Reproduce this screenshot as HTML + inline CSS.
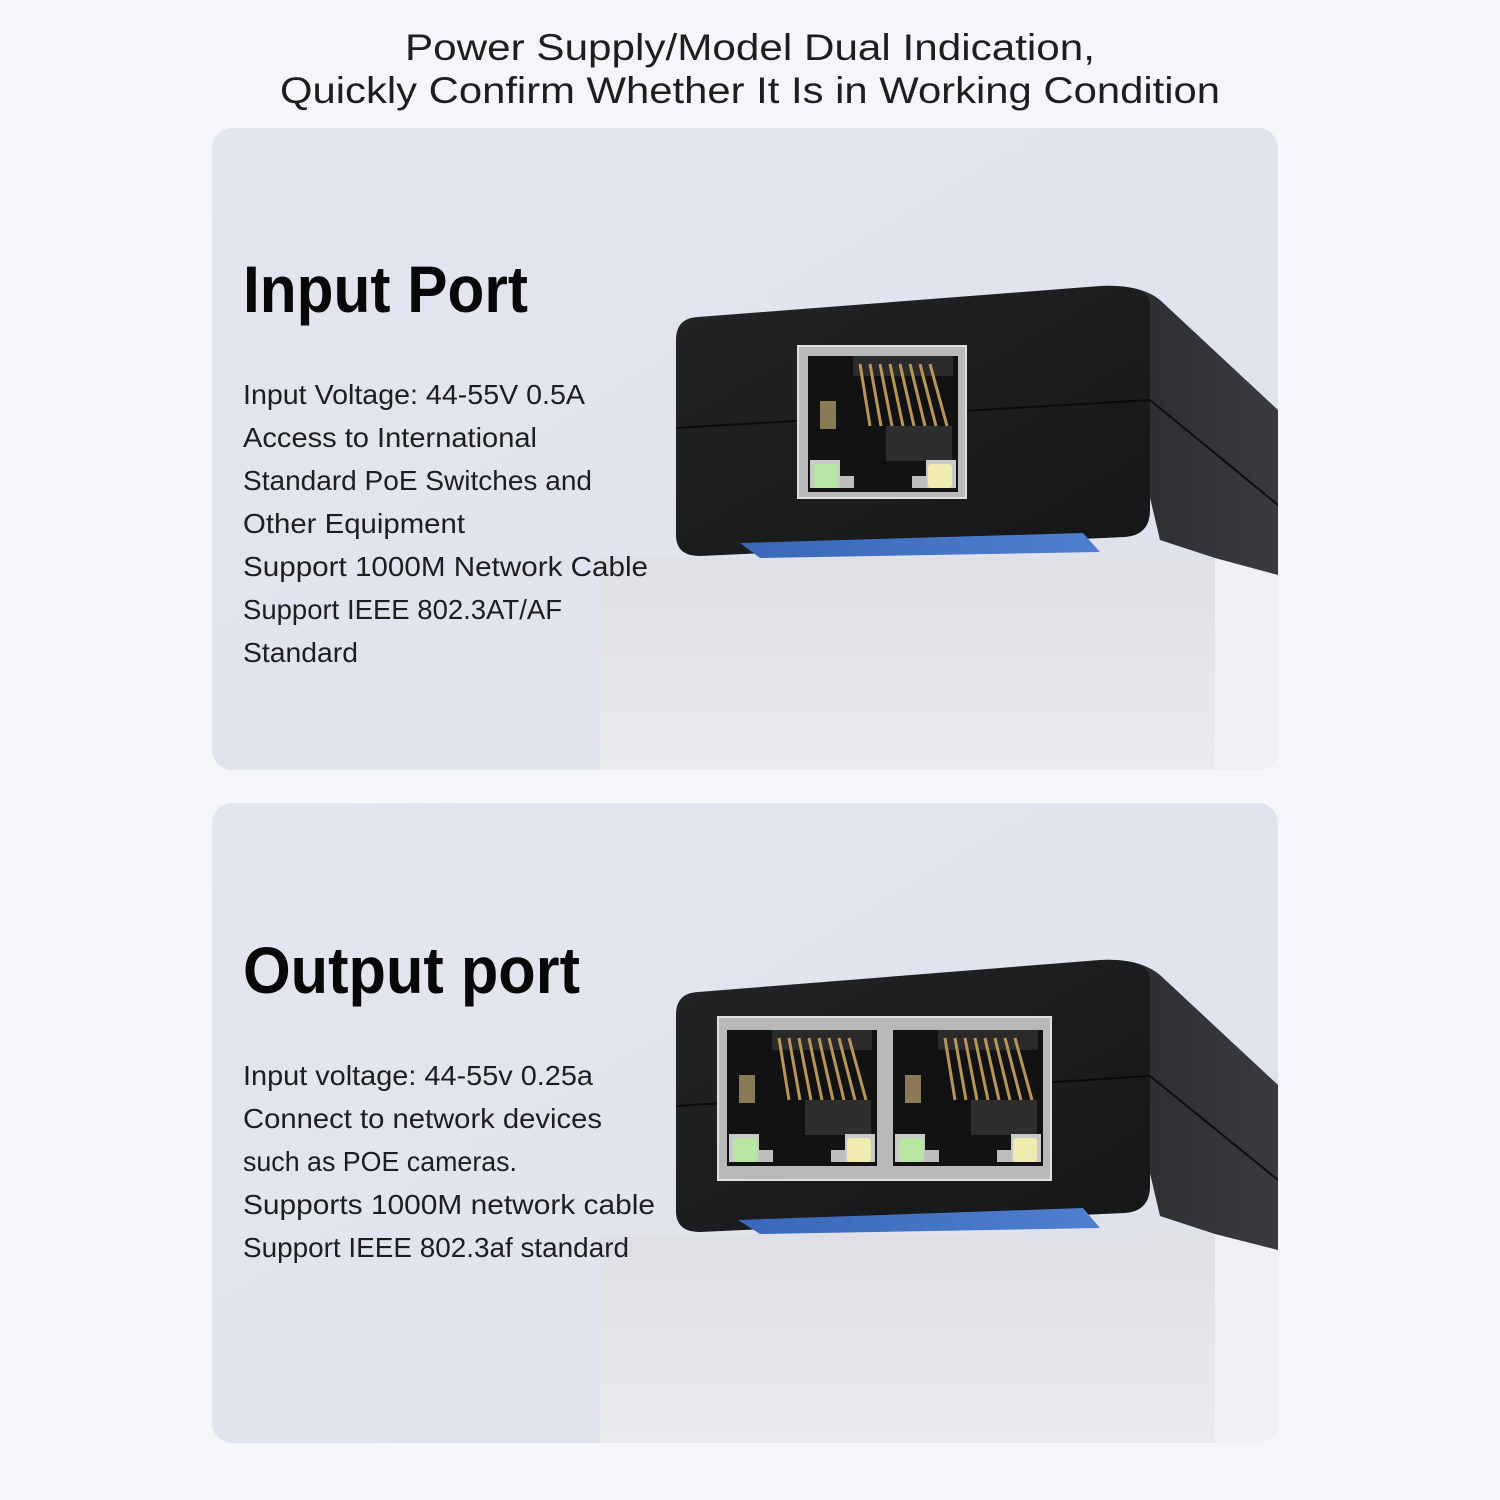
<!DOCTYPE html>
<html><head><meta charset="utf-8"><style>
html,body{margin:0;padding:0;background:#f5f6fa;}
svg{display:block}
text{font-family:"Liberation Sans",sans-serif;fill:#1e1e1e}
</style></head><body>
<svg width="1500" height="1500" viewBox="0 0 1500 1500" xmlns="http://www.w3.org/2000/svg">
<defs>
<linearGradient id="pbg" x1="0" y1="0" x2="1" y2="1">
<stop offset="0" stop-color="#e3e5ef"/><stop offset="0.5" stop-color="#e1e4ee"/><stop offset="1" stop-color="#dde0ea"/>
</linearGradient>
<linearGradient id="ped" x1="0" y1="0" x2="0" y2="1">
<stop offset="0" stop-color="#dfe0e5"/><stop offset="1" stop-color="#e9eaee"/>
</linearGradient>
<linearGradient id="front" x1="0" y1="0" x2="1" y2="1">
<stop offset="0" stop-color="#232426"/><stop offset="1" stop-color="#151617"/>
</linearGradient>
<linearGradient id="side" x1="0" y1="0" x2="1" y2="0">
<stop offset="0" stop-color="#2a2b2e"/><stop offset="1" stop-color="#3a3b3f"/>
</linearGradient>
<linearGradient id="blue" x1="0" y1="0" x2="1" y2="0">
<stop offset="0" stop-color="#3a67b8"/><stop offset="1" stop-color="#4f7fd0"/>
</linearGradient>
<g id="jack">
<rect x="0" y="0" width="150" height="136" fill="#121212"/>
<rect x="45" y="0" width="100" height="20" fill="#2a2a2a"/>
<g stroke="#b8965a" stroke-width="3">
<line x1="52" y1="8" x2="62" y2="70"/><line x1="62" y1="8" x2="73" y2="70"/>
<line x1="72" y1="8" x2="84" y2="70"/><line x1="82" y1="8" x2="95" y2="70"/>
<line x1="92" y1="8" x2="106" y2="70"/><line x1="102" y1="8" x2="117" y2="70"/>
<line x1="112" y1="8" x2="128" y2="70"/><line x1="122" y1="8" x2="139" y2="70"/>
</g>
<g fill="#2e2e2e"><rect x="78" y="70" width="66" height="35"/></g>
<rect x="12" y="45" width="16" height="28" fill="#8a7a55"/>
<rect x="2" y="104" width="30" height="28" fill="#c9c9c9"/>
<rect x="6" y="108" width="24" height="24" rx="3" fill="#b7e7a2"/>
<rect x="32" y="120" width="14" height="12" fill="#bdbdbd"/>
<rect x="118" y="104" width="30" height="28" fill="#c9c9c9"/>
<rect x="120" y="108" width="24" height="24" rx="3" fill="#f0ebb0"/>
<rect x="104" y="120" width="14" height="12" fill="#bdbdbd"/>
</g>
</defs>

<text x="750" y="60" font-size="37" text-anchor="middle" textLength="690" lengthAdjust="spacingAndGlyphs">Power Supply/Model Dual Indication,</text>
<text x="750" y="103" font-size="37" text-anchor="middle" textLength="940" lengthAdjust="spacingAndGlyphs">Quickly Confirm Whether It Is in Working Condition</text>

<!-- Panel 1 -->
<clipPath id="c1"><rect x="212" y="128" width="1066" height="642" rx="20"/></clipPath>
<g clip-path="url(#c1)">
<rect x="212" y="128" width="1066" height="642" fill="url(#pbg)"/>
<rect x="600" y="558" width="678" height="212" fill="url(#ped)"/>
<rect x="1215" y="558" width="63" height="212" fill="#f0f1f4"/>
<!-- side -->
<path d="M1100 286 Q1140 284 1160 300 L1278 410 L1278 575 L1215 558 L1160 540 Z" fill="url(#side)"/>
<line x1="1150" y1="400" x2="1278" y2="505" stroke="#0e0e0e" stroke-width="2"/>
<!-- front -->
<path d="M676 340 Q676 318 698 317 L1100 286 Q1150 284 1150 305 L1150 510 Q1150 535 1125 537 L700 556 Q676 556 676 535 Z" fill="url(#front)"/>
<line x1="676" y1="428" x2="1150" y2="400" stroke="#0a0a0a" stroke-width="2"/>
<path d="M740 543 L1083 533 L1100 552 L760 558 Z" fill="url(#blue)"/>
<rect x="798" y="346" width="168" height="152" fill="#b9b9bb" stroke="#e0e0e0" stroke-width="2"/>
<use href="#jack" x="808" y="356"/>
</g>
<text x="243" y="312" font-size="66" font-weight="bold" textLength="285" lengthAdjust="spacingAndGlyphs" style="fill:#080808">Input Port</text>
<g font-size="28">
<text x="243" y="404" textLength="342" lengthAdjust="spacingAndGlyphs">Input Voltage: 44-55V 0.5A</text>
<text x="243" y="447" textLength="294" lengthAdjust="spacingAndGlyphs">Access to International</text>
<text x="243" y="490" textLength="349" lengthAdjust="spacingAndGlyphs">Standard PoE Switches and</text>
<text x="243" y="533" textLength="222" lengthAdjust="spacingAndGlyphs">Other Equipment</text>
<text x="243" y="576" textLength="405" lengthAdjust="spacingAndGlyphs">Support  1000M Network Cable</text>
<text x="243" y="619" textLength="319" lengthAdjust="spacingAndGlyphs">Support IEEE 802.3AT/AF</text>
<text x="243" y="662" textLength="115" lengthAdjust="spacingAndGlyphs">Standard</text>
</g>

<!-- Panel 2 -->
<clipPath id="c2"><rect x="212" y="803" width="1066" height="640" rx="20"/></clipPath>
<g clip-path="url(#c2)">
<rect x="212" y="803" width="1066" height="640" fill="url(#pbg)"/>
<rect x="600" y="1234" width="678" height="209" fill="url(#ped)"/>
<rect x="1215" y="1234" width="63" height="209" fill="#f0f1f4"/>
<path d="M1100 960 Q1140 958 1160 975 L1278 1085 L1278 1250 L1215 1234 L1160 1216 Z" fill="url(#side)"/>
<line x1="1150" y1="1076" x2="1278" y2="1180" stroke="#0e0e0e" stroke-width="2"/>
<path d="M676 1015 Q676 993 698 992 L1100 960 Q1150 958 1150 980 L1150 1186 Q1150 1211 1125 1213 L700 1232 Q676 1232 676 1211 Z" fill="url(#front)"/>
<line x1="676" y1="1106" x2="1150" y2="1076" stroke="#0a0a0a" stroke-width="2"/>
<path d="M738 1220 L1083 1208 L1100 1228 L760 1234 Z" fill="url(#blue)"/>
<rect x="718" y="1017" width="333" height="163" fill="#b9b9bb" stroke="#e0e0e0" stroke-width="2"/>
<use href="#jack" x="727" y="1030" transform="translate(0,0)"/>
<use href="#jack" x="893" y="1030"/>
</g>
<text x="243" y="993" font-size="66" font-weight="bold" textLength="337" lengthAdjust="spacingAndGlyphs" style="fill:#080808">Output port</text>
<g font-size="28">
<text x="243" y="1085" textLength="350" lengthAdjust="spacingAndGlyphs">Input voltage: 44-55v 0.25a</text>
<text x="243" y="1128" textLength="359" lengthAdjust="spacingAndGlyphs">Connect to network devices</text>
<text x="243" y="1171" textLength="274" lengthAdjust="spacingAndGlyphs">such as POE cameras.</text>
<text x="243" y="1214" textLength="412" lengthAdjust="spacingAndGlyphs">Supports 1000M network cable</text>
<text x="243" y="1257" textLength="386" lengthAdjust="spacingAndGlyphs">Support IEEE 802.3af standard</text>
</g>
</svg>
</body></html>
